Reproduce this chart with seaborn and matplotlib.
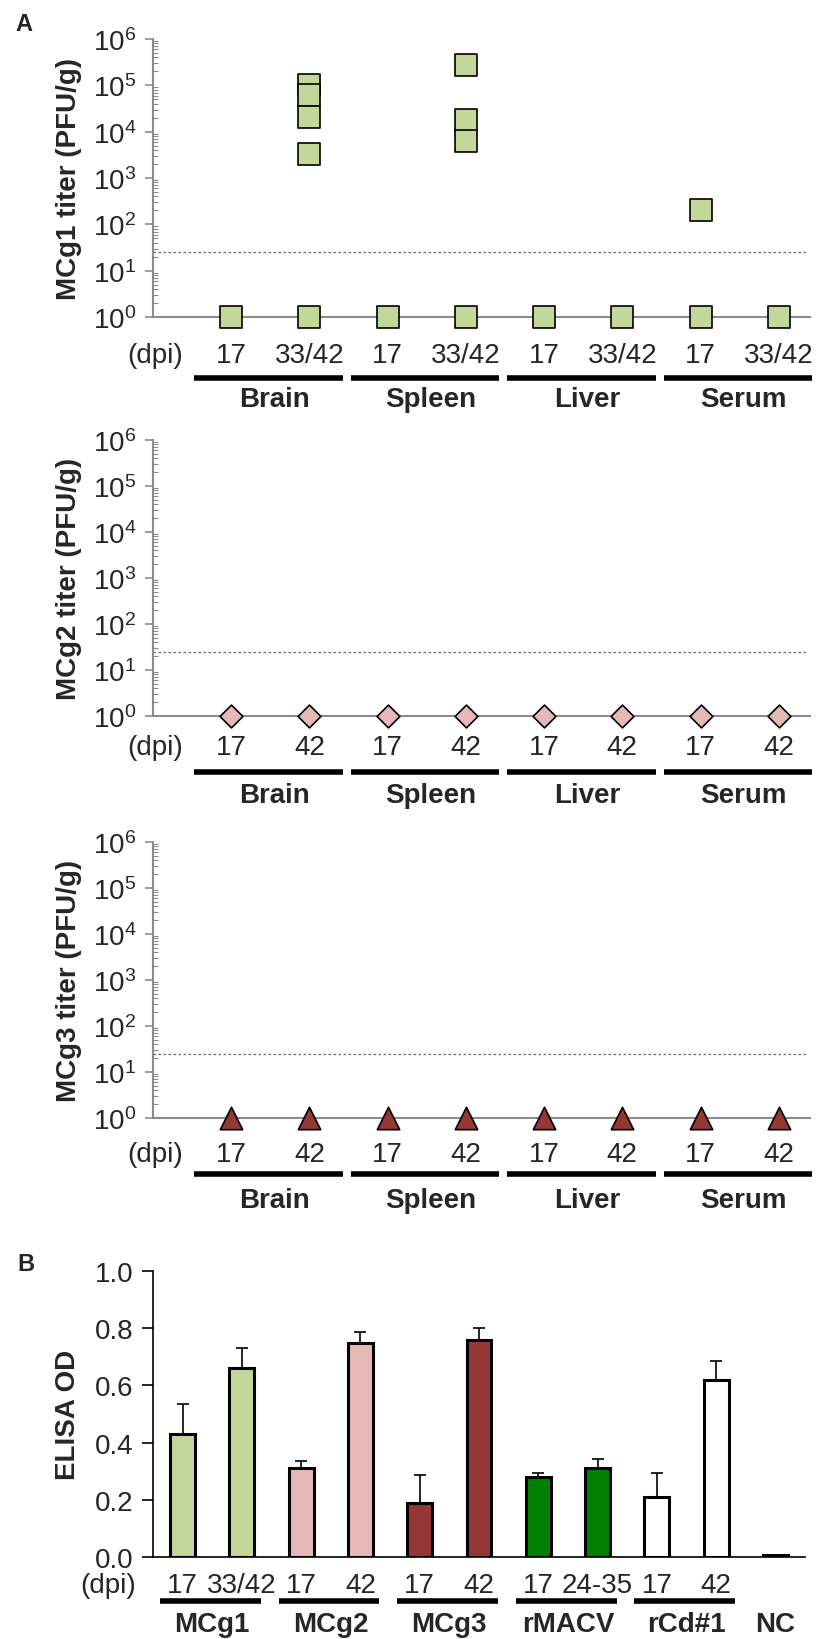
import numpy as np
import pandas as pd
import matplotlib
matplotlib.use('Agg')
import matplotlib.pyplot as plt
from matplotlib.ticker import FixedLocator, NullFormatter
import seaborn as sns

sns.set_style('ticks')
plt.rcParams['font.family'] = ['Liberation Sans', 'DejaVu Sans']
plt.rcParams['mathtext.fontset'] = 'custom'
plt.rcParams['mathtext.rm'] = 'Liberation Sans'
plt.rcParams['mathtext.it'] = 'Liberation Sans:italic'
plt.rcParams['mathtext.bf'] = 'Liberation Sans:bold'

# ---- data, panel A ----
tissues = ['Brain', 'Spleen', 'Liver', 'Serum']
dpi_mcg1 = ['17', '33/42'] * 4
dpi_mcg23 = ['17', '42'] * 4
detect_limit = 25

# positions 1..8 = tissue x dpi; undetectable plotted at 10^0
mcg1_pos = [1, 2, 3, 4, 5, 6, 7, 8, 2, 2, 2, 2, 4, 4, 4, 7]
mcg1_titer = [1, 1, 1, 1, 1, 1, 1, 1, 1.0e5, 6.2e4, 2.1e4, 3.3e3, 2.8e5, 1.8e4, 6.3e3, 200]
mcg2_pos = [1, 2, 3, 4, 5, 6, 7, 8]
mcg2_titer = [1, 1, 1, 1, 1, 1, 1, 1]
mcg3_pos = [1, 2, 3, 4, 5, 6, 7, 8]
mcg3_titer = [1, 1, 1, 1, 1, 1, 1, 1]

# ---- data, panel B ----
elisa_groups = ['MCg1', 'MCg2', 'MCg3', 'rMACV', 'rCd#1', 'NC']
elisa_dpi = ['17', '33/42', '17', '42', '17', '42', '17', '24-35', '17', '42', '']
elisa_mean = [0.43, 0.66, 0.31, 0.75, 0.19, 0.76, 0.28, 0.31, 0.21, 0.62, 0.008]
elisa_sd = [0.105, 0.07, 0.025, 0.037, 0.097, 0.04, 0.013, 0.032, 0.085, 0.064, 0.0]
elisa_colors = ['#c4d79b', '#c4d79b', '#e6b9b8', '#e6b9b8', '#953735', '#953735',
                '#008000', '#008000', '#ffffff', '#ffffff', '#000000']

FIG_W, FIG_H = 822, 1640
fig = plt.figure(figsize=(FIG_W / 100, FIG_H / 100), dpi=100)

gray = '#8c8c8c'
FS = 20


def px_axes(ax, px):
    # pixels below the axes -> axes fraction
    return -px / (ax.get_position().height * FIG_H)


def titer_panel(rect, pos, titer, ylabel, dpis, marker, color, size, offs):
    ax = fig.add_axes(rect)
    df = pd.DataFrame({'pos': pos, 'titer': titer})
    sns.scatterplot(data=df, x='pos', y='titer', marker=marker, s=size, color=color,
                    edgecolor='black', linewidth=1.2, clip_on=False, zorder=5, ax=ax)
    ax.set_yscale('log')
    ax.set_ylim(1, 1e6)
    ax.set_xlim(0, 8.4)
    ax.axhline(detect_limit, xmin=0, xmax=0.994, color='#666666', lw=0.9, ls=(0, (2, 2)))
    ax.yaxis.set_major_locator(FixedLocator([10 ** i for i in range(7)]))
    ax.set_yticklabels([r'$\mathregular{10^{%d}}$' % i for i in range(7)])
    minors = [m * 10 ** d for d in range(6) for m in range(2, 10)]
    ax.yaxis.set_minor_locator(FixedLocator(minors))
    ax.yaxis.set_minor_formatter(NullFormatter())
    ax.tick_params(axis='y', which='major', length=6, width=1.2, color=gray,
                   labelsize=FS, pad=6)
    ax.tick_params(axis='y', which='minor', left=True, length=3.5, width=0.8,
                   color=gray, direction='in')
    ax.set_xticks([])
    ax.set_xlabel('')
    ax.set_ylabel(ylabel, fontsize=FS, fontweight='bold', labelpad=8)
    for s in ['top', 'right']:
        ax.spines[s].set_visible(False)
    ax.spines['left'].set_color(gray)
    ax.spines['left'].set_linewidth(1.5)
    ax.spines['bottom'].set_color(gray)
    ax.spines['bottom'].set_linewidth(1.5)

    tr = ax.get_xaxis_transform()
    d_off, u_off, g_off = offs
    ax.text(0.03, px_axes(ax, d_off), '(dpi)', transform=tr, ha='center',
            va='baseline', fontsize=FS)
    for i, lab in enumerate(dpis):
        ax.text(i + 1, px_axes(ax, d_off), lab, transform=tr, ha='center',
                va='baseline', fontsize=FS)
    for k, t in enumerate(tissues):
        x0 = 2 * k + 0.53
        ax.plot([x0, x0 + 1.9], [px_axes(ax, u_off)] * 2, transform=tr, color='black',
                lw=4, solid_capstyle='butt', clip_on=False)
        ax.text(2 * k + 1.55, px_axes(ax, g_off), t, transform=tr, ha='center',
                va='baseline', fontsize=FS, fontweight='bold')
    return ax


left = 153 / FIG_W
width = (810 - 153) / FIG_W


def rect_from(top_px, bot_px, l=left, w=width):
    return [l, 1 - bot_px / FIG_H, w, (bot_px - top_px) / FIG_H]


titer_panel(rect_from(40, 318), mcg1_pos, mcg1_titer, 'MCg1 titer (PFU/g)',
            dpi_mcg1, 's', '#c4d79b', 250, (45, 61, 89))
titer_panel(rect_from(441, 717), mcg2_pos, mcg2_titer, 'MCg2 titer (PFU/g)',
            dpi_mcg23, 'D', '#e6b9b8', 135, (38, 56, 86))
titer_panel(rect_from(843, 1119), mcg3_pos, mcg3_titer, 'MCg3 titer (PFU/g)',
            dpi_mcg23, '^', '#953735', 260, (43, 56, 89))

# ---- panel B ----
axb = fig.add_axes(rect_from(1272, 1558, w=(805 - 153) / FIG_W))
bdf = pd.DataFrame({'x': list(range(len(elisa_mean))), 'od': elisa_mean})
sns.barplot(data=bdf, x='x', y='od', hue='x', palette=elisa_colors, legend=False,
            saturation=1, width=0.42, edgecolor='black', linewidth=2.2, errorbar=None,
            ax=axb, zorder=3)
axb.errorbar(bdf['x'], bdf['od'], yerr=[np.zeros(len(elisa_sd)), elisa_sd], fmt='none',
             ecolor='black', elinewidth=1.2, capsize=4.5, capthick=1.2, zorder=2)
axb.set_xlim(-0.5, 10.5)
axb.set_ylim(0, 1.0)
axb.set_yticks(np.arange(0, 1.01, 0.2))
axb.set_yticklabels(['%.1f' % v for v in np.arange(0, 1.01, 0.2)])
axb.tick_params(axis='y', length=8, width=1.2, color='black', labelsize=FS, pad=6)
axb.set_xticks([])
axb.set_xlabel('')
axb.set_ylabel('ELISA OD', fontsize=FS, fontweight='bold', labelpad=10)
for s in ['top', 'right']:
    axb.spines[s].set_visible(False)
axb.spines['left'].set_linewidth(1.2)
axb.spines['bottom'].set_linewidth(1.2)
axb.spines['left'].set_color('black')
axb.spines['bottom'].set_color('black')

trb = axb.get_xaxis_transform()
axb.text(-1.26, px_axes(axb, 35), '(dpi)', transform=trb, ha='center', va='baseline',
         fontsize=FS)
for i, lab in enumerate(elisa_dpi):
    axb.text(i, px_axes(axb, 35), lab, transform=trb, ha='center', va='baseline',
             fontsize=FS)
for k, g in enumerate(elisa_groups):
    x0 = 2 * k
    if g != 'NC':
        axb.plot([x0 - 0.38, x0 + 1.32], [px_axes(axb, 43.5)] * 2, transform=trb,
                 color='black', lw=4, solid_capstyle='butt', clip_on=False)
        axb.text(x0 + 0.5, px_axes(axb, 74), g, transform=trb, ha='center',
                 va='baseline', fontsize=FS, fontweight='bold')
    else:
        axb.text(x0, px_axes(axb, 74), g, transform=trb, ha='center',
                 va='baseline', fontsize=FS, fontweight='bold')

fig.text(15 / FIG_W, 1 - 13 / FIG_H, 'A', fontsize=17, fontweight='bold', ha='left', va='top')
fig.text(17 / FIG_W, 1 - 1253 / FIG_H, 'B', fontsize=17, fontweight='bold', ha='left', va='top')

fig.savefig('out.png', dpi=100)
